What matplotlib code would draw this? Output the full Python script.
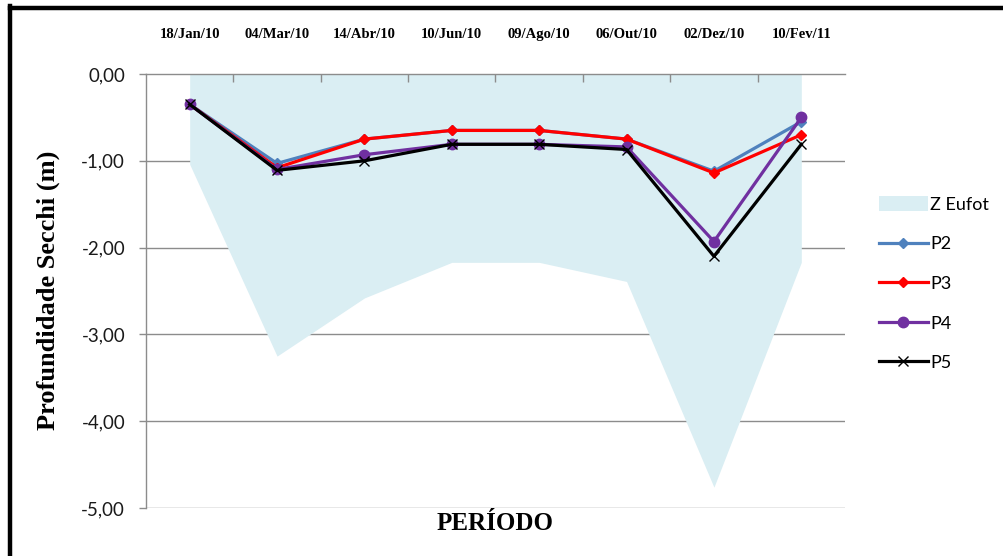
import matplotlib
matplotlib.use("Agg")
import matplotlib.pyplot as plt
from matplotlib.lines import Line2D
from matplotlib.patches import Patch
import numpy as np

categories = ["18/Jan/10", "04/Mar/10", "14/Abr/10", "10/Jun/10",
              "09/Ago/10", "06/Out/10", "02/Dez/10", "10/Fev/11"]
z_eufot = [-1.04, -3.25, -2.58, -2.17, -2.17, -2.39, -4.76, -2.17]
p2 = [-0.35, -1.03, -0.75, -0.65, -0.65, -0.75, -1.12, -0.55]
p3 = [-0.35, -1.08, -0.75, -0.65, -0.65, -0.75, -1.14, -0.70]
p4 = [-0.35, -1.10, -0.93, -0.81, -0.81, -0.84, -1.93, -0.50]
p5 = [-0.35, -1.11, -1.00, -0.81, -0.81, -0.87, -2.10, -0.81]
yticks = [0, -1, -2, -3, -4, -5]
ytick_labels = ["0,00", "-1,00", "-2,00", "-3,00", "-4,00", "-5,00"]

W, H = 1004, 556
fig = plt.figure(figsize=(W / 100, H / 100), dpi=100)
fig.patch.set_facecolor("white")

# outer black border (left and top)
fig.add_artist(Line2D([10 / W, 10 / W], [0, 1 - 6 / H], color="black", lw=3.2,
                      transform=fig.transFigure, solid_capstyle="projecting"))
fig.add_artist(Line2D([10 / W, 1], [1 - 8 / H, 1 - 8 / H], color="black", lw=3.2,
                      transform=fig.transFigure, solid_capstyle="projecting"))

ax = fig.add_axes([146 / W, 1 - 508 / H, (845 - 146) / W, (508 - 74) / H])
x = np.arange(len(categories))

grid_c = "#8c8c8c"
ax.fill_between(x, 0, z_eufot, color="#DAEEF3", lw=0, zorder=1)
ax.plot(x, p2, color="#4F81BD", lw=2.3, marker="D", ms=5, zorder=3)
ax.plot(x, p3, color="#FF0000", lw=2.3, marker="D", ms=5, zorder=4)
ax.plot(x, p4, color="#7030A0", lw=2.3, marker="o", ms=7.5, zorder=5)
ax.plot(x, p5, color="black", lw=2.3, marker="x", ms=7, mew=1.0, zorder=6)

ax.set_xlim(-0.5, len(categories) - 0.5)
ax.set_ylim(-5, 0)

for yv in yticks[1:]:
    ax.axhline(yv, color=grid_c, lw=1.0, zorder=0)

ax.set_yticks(yticks)
ax.set_yticklabels(ytick_labels, family="Lato", fontsize=13.5, color="#1a1a1a")
ax.tick_params(axis="y", direction="out", length=5, width=1, color=grid_c, pad=10)

ax.xaxis.set_ticks_position("top")
ax.set_xticks(x)
ax.set_xticklabels(categories, family="Liberation Serif", fontweight="bold", fontsize=10.5)
ax.set_xticks(np.arange(len(categories) - 1) + 0.5, minor=True)
ax.tick_params(axis="x", which="major", length=0, pad=24)
ax.tick_params(axis="x", which="minor", direction="in", length=5.5, width=1, color=grid_c)

for s in ["right", "bottom"]:
    ax.spines[s].set_visible(False)
for s in ["top", "left"]:
    ax.spines[s].set_color(grid_c)
    ax.spines[s].set_linewidth(1.0)

fig.text(48 / W, 1 - 290 / H, "Profundidade Secchi (m)", rotation=90, ha="center",
         va="center", family="Liberation Serif", fontweight="bold", fontsize=19)
fig.text(495 / W, 1 - 523 / H, "PERÍODO", ha="center", va="center",
         family="Liberation Serif", fontweight="bold", fontsize=18)

handles = [
    Patch(facecolor="#DAEEF3", edgecolor="none"),
    Line2D([], [], color="#4F81BD", lw=2.3, marker="D", ms=5),
    Line2D([], [], color="#FF0000", lw=2.3, marker="D", ms=5),
    Line2D([], [], color="#7030A0", lw=2.3, marker="o", ms=7.5),
    Line2D([], [], color="black", lw=2.3, marker="x", ms=7, mew=1.0),
]
labels = ["Z Eufot", "P2", "P3", "P4", "P5"]
fig.legend(handles, labels, loc="upper left", bbox_to_anchor=(879 / W, 1 - 196 / H),
           frameon=False, prop={"family": "Lato", "size": 13}, handlelength=2.7,
           handletextpad=0.12, labelspacing=1.27, borderpad=0, borderaxespad=0,
           handleheight=0.9)

fig.savefig("out.png", dpi=100)
